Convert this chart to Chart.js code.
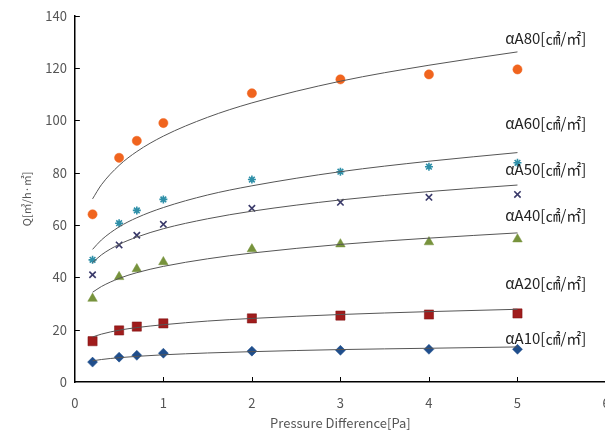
<!DOCTYPE html>
<html>
<head>
<meta charset="utf-8">
<script src="https://cdn.jsdelivr.net/npm/chart.js@4.4.1/dist/chart.umd.min.js"></script>
<style>
  html, body { margin: 0; padding: 0; background: #fff; overflow: hidden; }
  #wrap { position: relative; width: 625px; height: 431px; }
</style>
</head>
<body>
<div id="wrap"><canvas id="chart" width="625" height="431"></canvas></div>
<script>
// measured points
const pressure = [0.2, 0.5, 0.7, 1, 2, 3, 4, 5];
const qA80 = [64.1, 85.7, 92.2, 99.0, 110.4, 115.7, 117.6, 119.5];
const qA60 = [46.7, 60.7, 65.6, 69.8, 77.4, 80.4, 82.3, 83.8];
const qA50 = [41.0, 52.4, 56.1, 60.3, 66.4, 68.7, 70.6, 71.7];
const qA40 = [31.9, 40.2, 43.2, 45.9, 50.8, 52.7, 53.5, 54.6];
const qA20 = [15.6, 19.7, 21.2, 22.4, 24.3, 25.4, 25.8, 26.2];
const qA10 = [7.6, 9.5, 10.2, 11.0, 11.8, 12.1, 12.5, 12.5];

// trend lines
const trendX = [0.2, 0.3, 0.5, 0.7, 1, 1.5, 2, 3, 4, 5];
const trendA80 = [70.0, 75.4, 82.8, 88.1, 94.0, 101.2, 106.7, 115.0, 121.1, 126.2];
const trendA60 = [50.7, 54.3, 59.3, 62.8, 66.7, 71.5, 75.0, 80.4, 84.4, 87.7];
const trendA50 = [45.6, 48.6, 52.6, 55.4, 58.6, 62.4, 65.3, 69.6, 72.8, 75.3];
const trendA40 = [34.3, 36.5, 39.6, 41.8, 44.2, 47.1, 49.3, 52.6, 55.0, 57.0];
const trendA20 = [17.2, 18.3, 19.8, 20.8, 21.9, 23.3, 24.3, 25.8, 26.9, 27.8];
const trendA10 = [8.1, 8.6, 9.3, 9.8, 10.4, 11.1, 11.6, 12.4, 12.9, 13.4];

const seriesNames = ['αA80[㎠/㎡]', 'αA60[㎠/㎡]', 'αA50[㎠/㎡]', 'αA40[㎠/㎡]', 'αA20[㎠/㎡]', 'αA10[㎠/㎡]'];
const labelAnchorQ = [131.3, 98.8, 81.2, 63.7, 37.7, 16.7];
const xTicks = [0, 1, 2, 3, 4, 5, 6];
const yTicks = [0, 20, 40, 60, 80, 100, 120, 140];

const toPoints = (xs, ys) => xs.map((x, i) => ({ x: x, y: ys[i] }));

function trend(values) {
  return {
    type: 'line',
    data: toPoints(trendX, values),
    borderColor: '#555555',
    borderWidth: 1,
    pointRadius: 0,
    cubicInterpolationMode: 'monotone',
    fill: false,
  };
}

function marker(values, style, color, radius, border) {
  return {
    type: 'scatter',
    data: toPoints(pressure, values),
    pointStyle: style,
    pointRadius: radius,
    pointBackgroundColor: color,
    pointBorderColor: border || color,
    pointBorderWidth: style === 'star' || style === 'crossRot' ? 1.6 : 0.5,
    showLine: false,
  };
}

const tickFont = { family: '"Noto Sans CJK KR", "DejaVu Sans", sans-serif', size: 13 };

const insideTicks = {
  id: 'insideTicks',
  afterDatasetsDraw(chart) {
    const { ctx, scales: { x, y }, chartArea: area } = chart;
    ctx.save();
    ctx.strokeStyle = '#000';
    ctx.lineWidth = 1;
    ctx.beginPath();
    xTicks.slice(1, -1).forEach(v => {
      const px = Math.round(x.getPixelForValue(v)) + 0.5;
      ctx.moveTo(px, area.bottom);
      ctx.lineTo(px, area.bottom - 5);
    });
    yTicks.slice(1).forEach(v => {
      const py = Math.round(y.getPixelForValue(v)) + 0.5;
      ctx.moveTo(area.left, py);
      ctx.lineTo(area.left + 5, py);
    });
    ctx.stroke();

    // plot area edge on the right
    ctx.strokeStyle = '#bbbbbb';
    ctx.beginPath();
    ctx.moveTo(Math.round(area.right) - 0.5, area.top);
    ctx.lineTo(Math.round(area.right) - 0.5, area.bottom);
    ctx.stroke();

    ctx.fillStyle = '#222';
    ctx.font = '15px "Noto Sans CJK KR", sans-serif';
    ctx.textAlign = 'center';
    ctx.textBaseline = 'middle';
    seriesNames.forEach((name, i) => {
      ctx.fillText(name, x.getPixelForValue(5.32), y.getPixelForValue(labelAnchorQ[i]));
    });
    ctx.restore();
  }
};

new Chart(document.getElementById('chart'), {
  data: {
    datasets: [
      trend(trendA80), trend(trendA60), trend(trendA50),
      trend(trendA40), trend(trendA20), trend(trendA10),
      marker(qA80, 'circle', '#f0641e', 4.6),
      marker(qA60, 'star', '#2e8fa8', 4),
      marker(qA50, 'crossRot', '#3a3a6a', 4.5),
      marker(qA40, 'triangle', '#77933c', 5.5),
      marker(qA20, 'rect', '#a01c1c', 6.5, '#7a1010'),
      marker(qA10, 'rectRot', '#1f4e8c', 5),
    ],
  },
  options: {
    responsive: false,
    animation: false,
    devicePixelRatio: 1,
    layout: { padding: { top: -2, right: 19, left: 20, bottom: 0 } },
    plugins: {
      legend: { display: false },
      tooltip: { enabled: false },
    },
    scales: {
      x: {
        type: 'linear',
        min: 0,
        max: 6,
        afterFit: scale => { scale.height = 49; },
        grid: { display: false, drawTicks: false },
        border: { display: true, color: '#000', width: 1.5 },
        ticks: { stepSize: 1, color: '#555', font: tickFont, padding: 13 },
        title: {
          display: true,
          text: 'Pressure Difference[Pa]',
          color: '#555',
          font: tickFont,
          padding: { top: 0, bottom: 0 },
        },
      },
      y: {
        type: 'linear',
        min: 0,
        max: 140,
        grid: { display: false, drawTicks: false },
        border: { display: true, color: '#000', width: 1.5 },
        ticks: { stepSize: 20, color: '#555', font: tickFont, padding: 8 },
        title: {
          display: true,
          text: 'Q[㎥/h·㎡]',
          color: '#555',
          font: { family: tickFont.family, size: 11 },
          padding: { top: 0, bottom: 4 },
        },
      },
    },
  },
  plugins: [insideTicks],
});
</script>
</body>
</html>
